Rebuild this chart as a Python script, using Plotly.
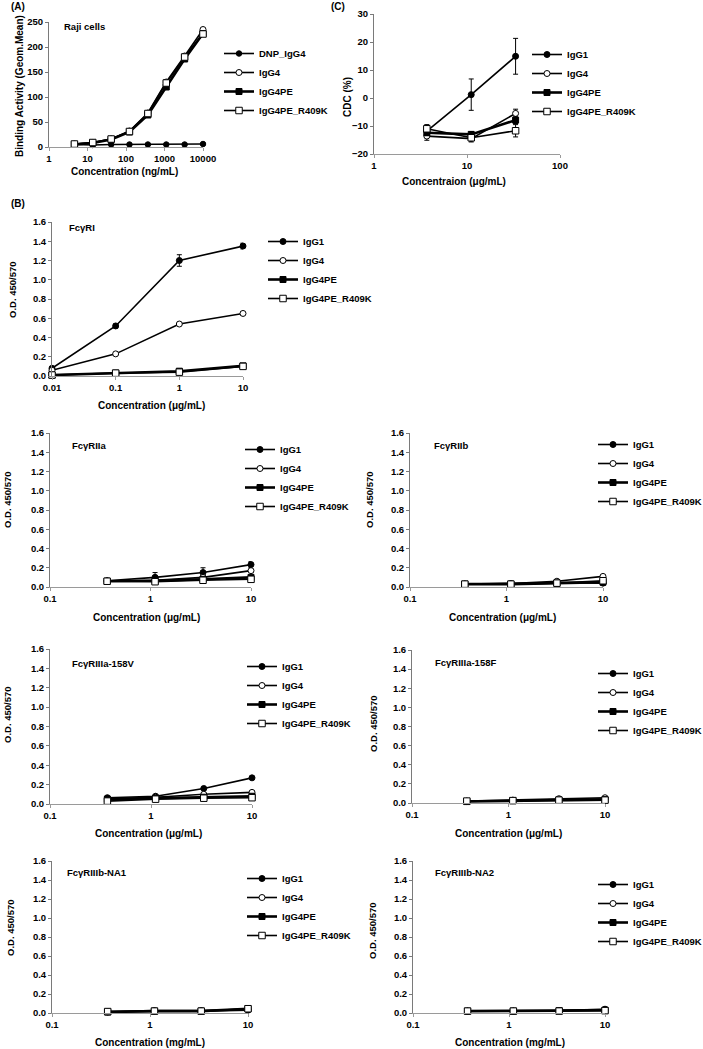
import plotly.graph_objects as go

W, H = 703, 1049
FONT = "Liberation Sans, Arial, sans-serif"

# ---------------- data ----------------
A_conc = [4.57, 13.7, 41.2, 123, 370, 1111, 3333, 10000]
A_DNP_IgG4 = [5, 4, 5, 5, 5, 5, 5, 6]
A_IgG4 = [6, 9, 16, 32, 68, 130, 182, 235]
A_IgG4PE = [5, 8, 15, 30, 64, 120, 176, 227]
A_IgG4PE_R409K = [6, 9, 16, 31, 67, 128, 180, 226]

C_conc = [3.7, 11.1, 33.3]
C_IgG1 = [-11.8, 1.2, 14.9]
C_IgG1_err = [1.5, 5.6, 6.4]
C_IgG4 = [-13.6, -14.5, -5.5]
C_IgG4_err = [1.5, 1.2, 1.5]
C_IgG4PE = [-12.4, -13.0, -7.9]
C_IgG4PE_err = [1.0, 1.0, 1.2]
C_R409K = [-11.0, -14.2, -11.7]
C_R409K_err = [1.5, 1.0, 2.2]

B1_conc = [0.01, 0.1, 1, 10]
B1_IgG1 = [0.08, 0.52, 1.20, 1.35]
B1_IgG1_err = [0.01, 0.02, 0.06, 0.03]
B1_IgG4 = [0.06, 0.23, 0.54, 0.65]
B1_IgG4_err = [0.005, 0.01, 0.01, 0.02]
B1_IgG4PE = [0.01, 0.03, 0.05, 0.105]
B1_R409K = [0.01, 0.03, 0.04, 0.10]

B_conc = [0.37, 1.11, 3.33, 10]
B2_IgG1 = [0.065, 0.10, 0.15, 0.233]
B2_IgG1_err = [0.01, 0.05, 0.05, 0.03]
B2_IgG4 = [0.06, 0.07, 0.10, 0.17]
B2_IgG4PE = [0.06, 0.065, 0.08, 0.10]
B2_R409K = [0.06, 0.055, 0.07, 0.08]

B3_IgG1 = [0.03, 0.035, 0.045, 0.04]
B3_IgG4 = [0.03, 0.035, 0.06, 0.11]
B3_IgG4PE = [0.03, 0.03, 0.04, 0.05]
B3_R409K = [0.03, 0.03, 0.04, 0.065]

B4_IgG1 = [0.065, 0.08, 0.16, 0.27]
B4_IgG4 = [0.05, 0.07, 0.10, 0.12]
B4_IgG4PE = [0.05, 0.06, 0.07, 0.08]
B4_R409K = [0.03, 0.05, 0.06, 0.065]

B5_IgG1 = [0.015, 0.025, 0.03, 0.04]
B5_IgG4 = [0.02, 0.03, 0.045, 0.055]
B5_IgG4PE = [0.015, 0.025, 0.03, 0.035]
B5_R409K = [0.02, 0.025, 0.03, 0.03]

B6_IgG1 = [0.01, 0.02, 0.02, 0.03]
B6_IgG4 = [0.015, 0.025, 0.025, 0.04]
B6_IgG4PE = [0.01, 0.02, 0.02, 0.045]
B6_R409K = [0.015, 0.02, 0.02, 0.045]

B7_IgG1 = [0.02, 0.02, 0.025, 0.04]
B7_IgG4 = [0.02, 0.02, 0.025, 0.03]
B7_IgG4PE = [0.02, 0.02, 0.025, 0.03]
B7_R409K = [0.02, 0.02, 0.02, 0.025]

A_ticks = [1, 10, 100, 1000, 10000]
C_ticks = [1, 10, 100]
B1_ticks = [0.01, 0.1, 1, 10]
B_ticks = [0.1, 1, 10]
OD_ticks = [0.0, 0.2, 0.4, 0.6, 0.8, 1.0, 1.2, 1.4, 1.6]

# ---------------- styles ----------------
STY = {
    "DNP_IgG4": dict(symbol="circle", color="black", size=5.5, lw=1.6),
    "IgG1": dict(symbol="circle", color="black", size=6, lw=1.6),
    "IgG4": dict(symbol="circle", color="white", size=6, lw=1.6),
    "IgG4PE": dict(symbol="square", color="black", size=6, lw=2.6),
    "IgG4PE_R409K": dict(symbol="square", color="white", size=6.5, lw=1.6),
}

fig = go.Figure()


def px_x(p):
    return p / W


def px_y(p):
    return 1 - p / H


def add_series(idx, x, y, name, err=None):
    s = STY[name]
    ax = "" if idx == 1 else str(idx)
    tr = go.Scatter(
        x=x, y=y, name=name, mode="lines+markers",
        xaxis="x" + ax, yaxis="y" + ax,
        legend="legend" + ax,
        line=dict(color="black", width=s["lw"]),
        marker=dict(symbol=s["symbol"], size=s["size"], color=s["color"],
                    line=dict(color="black", width=1)),
        cliponaxis=False,
    )
    if err is not None:
        tr.error_y = dict(type="data", array=err, visible=True, color="black",
                          thickness=1, width=2.5)
    fig.add_trace(tr)


def setup_axes(idx, xpx, ypx, xrange, xticks, yrange, yticks, yfmt):
    ax = "" if idx == 1 else str(idx)
    tf = dict(family=FONT, size=9.5, color="black", weight="bold")
    fig.layout["xaxis" + ax] = dict(
        type="log", range=xrange, domain=[px_x(xpx[0]), px_x(xpx[1])],
        anchor="y" + ax, tickvals=xticks, ticktext=[("%g" % v) for v in xticks],
        showline=True, linecolor="#9a9a9a", linewidth=1, ticks="outside",
        ticklen=3, tickcolor="#9a9a9a", showgrid=False, zeroline=False,
        tickfont=tf, fixedrange=True, automargin=False,
    )
    fig.layout["yaxis" + ax] = dict(
        range=yrange, domain=[px_y(ypx[1]), px_y(ypx[0])], anchor="x" + ax,
        tickvals=yticks, tickformat=yfmt,
        showline=True, linecolor="#7a7a7a", linewidth=1, ticks="outside",
        ticklen=3, tickcolor="#7a7a7a", showgrid=False, zeroline=False,
        tickfont=tf, fixedrange=True, automargin=False,
    )


def legend_at(idx, text_x, first_y):
    ax = "" if idx == 1 else str(idx)
    fig.layout["legend" + ax] = dict(
        x=px_x(text_x - 39), y=px_y(first_y - 18), xanchor="left", yanchor="top",
        font=dict(family=FONT, size=9.5, color="black", weight="bold"),
        bgcolor="rgba(0,0,0,0)", itemwidth=30, tracegroupgap=0,
    )


def ann(text, x, y, size=10, angle=0, xanchor="center"):
    fig.add_annotation(text=text, x=px_x(x), y=px_y(y), xref="paper", yref="paper",
                       showarrow=False, textangle=angle, xanchor=xanchor, yanchor="middle",
                       font=dict(family=FONT, size=size, color="black", weight="bold"))


# ---------- Panel A ----------
setup_axes(1, (49, 203), (22, 147), [0, 4], A_ticks, [0, 250], [0, 50, 100, 150, 200, 250], "d")
add_series(1, A_conc, A_DNP_IgG4, "DNP_IgG4")
add_series(1, A_conc, A_IgG4, "IgG4")
add_series(1, A_conc, A_IgG4PE, "IgG4PE")
add_series(1, A_conc, A_IgG4PE_R409K, "IgG4PE_R409K")
legend_at(1, 258, 57)
ann("Raji cells", 62, 27, 9.5, xanchor="left")
ann("Concentration (ng/mL)", 124, 172)
ann("Binding Activity (Geom.Mean)", 20, 86, angle=-90)
ann("(A)", 18, 6, 10)

# ---------- Panel C ----------
setup_axes(2, (374, 560), (14, 154), [0, 2], C_ticks, [-20, 30], [-20, -10, 0, 10, 20, 30], "d")
add_series(2, C_conc, C_IgG1, "IgG1", C_IgG1_err)
add_series(2, C_conc, C_IgG4, "IgG4", C_IgG4_err)
add_series(2, C_conc, C_IgG4PE, "IgG4PE", C_IgG4PE_err)
add_series(2, C_conc, C_R409K, "IgG4PE_R409K", C_R409K_err)
legend_at(2, 566, 58)
ann("Concentraion (μg/mL)", 454, 182)
ann("CDC (%)", 347, 97, angle=-90)
ann("(C)", 338, 6, 10)

ann("(B)", 18, 203, 10)

# ---------- Panels B ----------
panels = [
    (3, (52, 243), (222, 376), [-2, 1], B1_ticks, B1_conc,
     [B1_IgG1, B1_IgG4, B1_IgG4PE, B1_R409K], [B1_IgG1_err, B1_IgG4_err, None, None],
     (302, 245), "FcγRI", (67, 227), "Concentration (μg/mL)", (151, 405), (12, 290)),
    (4, (50, 251), (433, 587), [-1, 1], B_ticks, B_conc,
     [B2_IgG1, B2_IgG4, B2_IgG4PE, B2_R409K], [B2_IgG1_err, None, None, None],
     (279, 453), "FcγRIIa", (70, 445), "Concentration (μg/mL)", (146, 617), (8, 500)),
    (5, (410, 603), (433, 587), [-1, 1], B_ticks, B_conc,
     [B3_IgG1, B3_IgG4, B3_IgG4PE, B3_R409K], [None, None, None, None],
     (632, 448), "FcγRIIb", (432, 445), "Concentration (μg/mL)", (502, 617), (370, 500)),
    (6, (50, 252), (649, 804), [-1, 1], B_ticks, B_conc,
     [B4_IgG1, B4_IgG4, B4_IgG4PE, B4_R409K], [None, None, None, None],
     (281, 670), "FcγRIIIa-158V", (70, 663), "Concentration (μg/mL)", (148, 833), (7, 715)),
    (7, (412, 605), (650, 803), [-1, 1], B_ticks, B_conc,
     [B5_IgG1, B5_IgG4, B5_IgG4PE, B5_R409K], [None, None, None, None],
     (632, 677), "FcγRIIIa-158F", (433, 662), "Concentration (μg/mL)", (508, 833), (373, 724)),
    (8, (52, 248), (861, 1013), [-1, 1], B_ticks, B_conc,
     [B6_IgG1, B6_IgG4, B6_IgG4PE, B6_R409K], [None, None, None, None],
     (281, 882), "FcγRIIIb-NA1", (65, 872), "Concentration (mg/mL)", (150, 1042), (10, 928)),
    (9, (413, 605), (861, 1013), [-1, 1], B_ticks, B_conc,
     [B7_IgG1, B7_IgG4, B7_IgG4PE, B7_R409K], [None, None, None, None],
     (632, 888), "FcγRIIIb-NA2", (433, 872), "Concentration (mg/mL)", (510, 1042), (372, 931)),
]
names = ["IgG1", "IgG4", "IgG4PE", "IgG4PE_R409K"]
for (idx, xpx, ypx, xr, ticks, conc, series, errs, leg, title, txy, xtitle, xtxy, ytxy) in panels:
    setup_axes(idx, xpx, ypx, xr, ticks, [0, 1.6], OD_ticks, ".1f")
    for nm, ys, er in zip(names, series, errs):
        add_series(idx, conc, ys, nm, er)
    legend_at(idx, leg[0], leg[1])
    ann(title, txy[0], txy[1], 9.5, xanchor="left")
    ann(xtitle, xtxy[0], xtxy[1])
    ann("O.D. 450/570", ytxy[0], ytxy[1], 9.5, angle=-90)

fig.update_layout(
    width=W, height=H, margin=dict(l=0, r=0, t=0, b=0, autoexpand=False),
    paper_bgcolor="white", plot_bgcolor="white",
    font=dict(family=FONT, color="black", weight="bold"),
    showlegend=True,
)
fig.write_html("out.html", config={"displayModeBar": False},
               post_script="document.body.style.margin='0';document.body.style.overflow='hidden';")
